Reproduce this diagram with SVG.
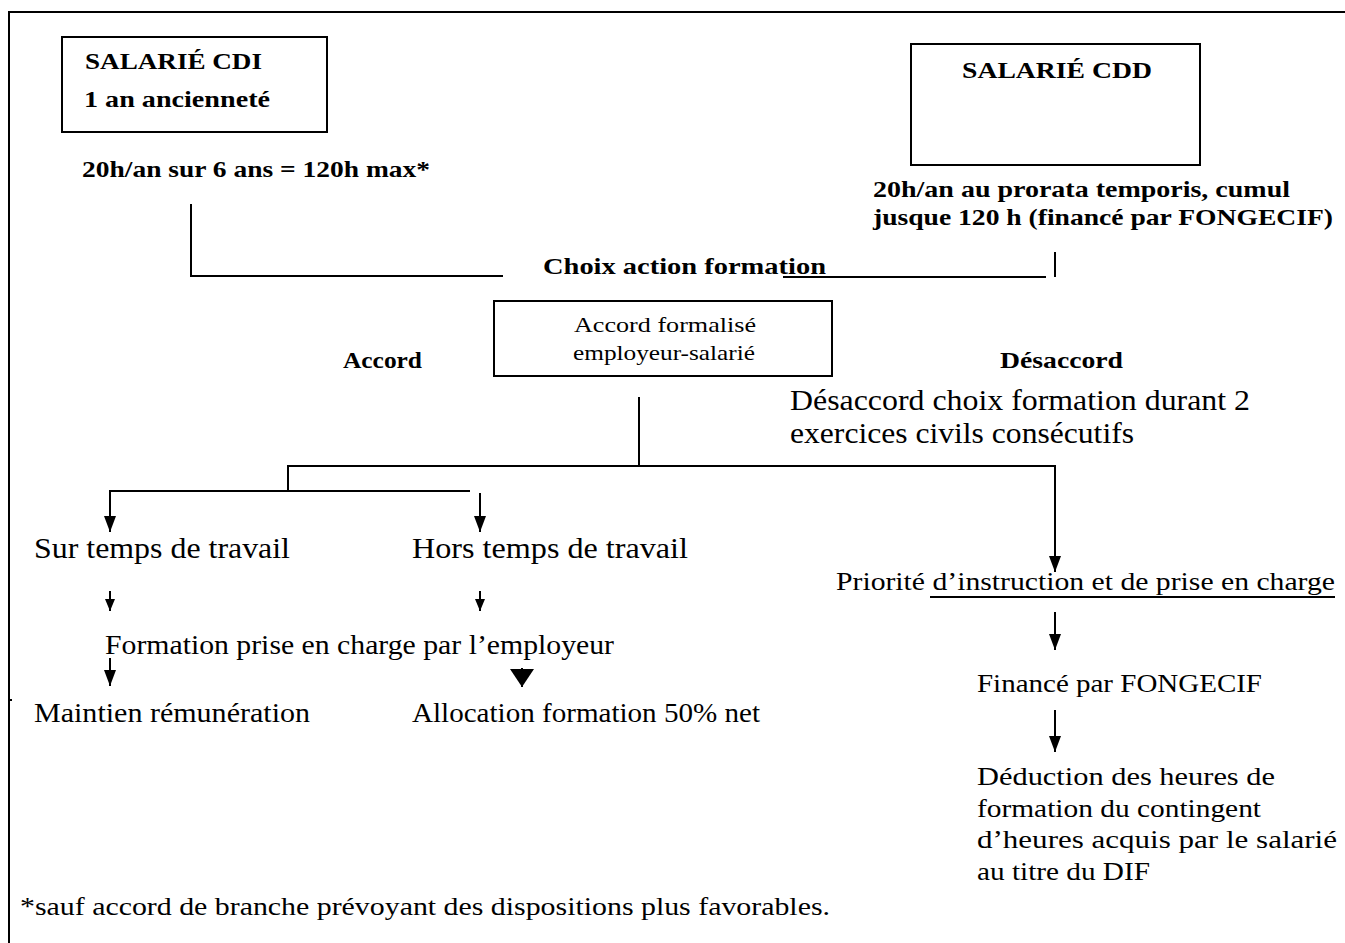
<svg xmlns="http://www.w3.org/2000/svg" width="1345" height="943" viewBox="0 0 1345 943">
<defs>
<style>
text{font-family:"Liberation Serif",serif;fill:#000}
.b{font-weight:bold;font-size:24px}
.s{font-size:21px}
.r{font-size:25px}
.m{font-size:27px}
.L{font-size:29px}
.box{fill:#fff;stroke:#000;stroke-width:2}
.ln{fill:none;stroke:#000;stroke-width:2}
.a{marker-end:url(#ah)}
.as{marker-end:url(#ahs)}
.ab{marker-end:url(#ahb)}
</style>
<marker id="ah" markerUnits="userSpaceOnUse" markerWidth="16" markerHeight="12" refX="16" refY="6" orient="auto"><path d="M0,0 L16,6 L0,12 z" fill="#000"/></marker>
<marker id="ahs" markerUnits="userSpaceOnUse" markerWidth="12" markerHeight="10" refX="12" refY="5" orient="auto"><path d="M0,0 L12,5 L0,10 z" fill="#000"/></marker>
<marker id="ahb" markerUnits="userSpaceOnUse" markerWidth="18" markerHeight="24" refX="18" refY="12" orient="auto"><path d="M0,0 L18,12 L0,24 z" fill="#000"/></marker>
</defs>
<rect width="1345" height="943" fill="#fff"/>
<g id="frame"><path class="ln" d="M9,943 V12 H1345"/><path class="ln" d="M9,700 H12"/></g>
<g id="connectors">
<path class="ln" d="M191,204 V276 H503"/>
<path class="ln" d="M783,277 H1046"/>
<path class="ln" d="M1055,252 V277"/>
<path class="ln" d="M639,397 V466"/>
<path class="ln a" d="M288,491 V466 H1055 V572"/>
<path class="ln a" d="M470,491 H110 V532"/>
<path class="ln a" d="M480,493 V532"/>
<path class="ln as" d="M110,591 V611"/>
<path class="ln as" d="M480,591 V611"/>
<path class="ln a" d="M110,658 V686"/>
<path class="ln ab" d="M522,668 V687"/>
<path class="ln a" d="M1055,612 V650"/>
<path class="ln a" d="M1055,710 V752"/>
</g>
<g id="cdi"><rect class="box" x="62" y="37" width="265" height="95"/>
<text class="b" x="85" y="69" textLength="177" lengthAdjust="spacingAndGlyphs">SALARIÉ CDI</text>
<text class="b" x="84" y="107" textLength="186" lengthAdjust="spacingAndGlyphs">1 an ancienneté</text></g>
<g id="cdi-hours"><text class="b" x="82" y="177" textLength="348" lengthAdjust="spacingAndGlyphs">20h/an sur 6 ans = 120h max*</text></g>
<g id="cdd"><rect class="box" x="911" y="44" width="289" height="121"/>
<text class="b" x="962" y="78" textLength="190" lengthAdjust="spacingAndGlyphs">SALARIÉ CDD</text></g>
<g id="cdd-hours"><text class="b" x="873" y="197" textLength="417" lengthAdjust="spacingAndGlyphs">20h/an au prorata temporis, cumul</text>
<text class="b" x="873" y="225" textLength="460" lengthAdjust="spacingAndGlyphs">jusque 120 h (financé par FONGECIF)</text></g>
<g id="choix"><text class="b" x="543" y="274" textLength="283" lengthAdjust="spacingAndGlyphs">Choix action formation</text></g>
<g id="accord-box"><rect class="box" x="494" y="301" width="338" height="75"/>
<text class="s" x="574" y="332" textLength="182" lengthAdjust="spacingAndGlyphs">Accord formalisé</text>
<text class="s" x="573" y="360" textLength="182" lengthAdjust="spacingAndGlyphs">employeur-salarié</text></g>
<g id="accord"><text class="b" x="343" y="368" textLength="79" lengthAdjust="spacingAndGlyphs">Accord</text></g>
<g id="desaccord"><text class="b" x="1000" y="368" textLength="123" lengthAdjust="spacingAndGlyphs">Désaccord</text></g>
<g id="desaccord-text"><text class="L" x="790" y="410" textLength="460" lengthAdjust="spacingAndGlyphs">Désaccord choix formation durant 2</text>
<text class="L" x="790" y="443" textLength="344" lengthAdjust="spacingAndGlyphs">exercices civils consécutifs</text></g>
<g id="sur-temps"><text class="L" x="34" y="558" textLength="256" lengthAdjust="spacingAndGlyphs">Sur temps de travail</text></g>
<g id="hors-temps"><text class="L" x="412" y="558" textLength="276" lengthAdjust="spacingAndGlyphs">Hors temps de travail</text></g>
<g id="prise-en-charge"><text class="m" x="105" y="654" textLength="509" lengthAdjust="spacingAndGlyphs">Formation prise en charge par l’employeur</text></g>
<g id="maintien"><text class="m" x="34" y="722" textLength="276" lengthAdjust="spacingAndGlyphs">Maintien rémunération</text></g>
<g id="allocation"><text class="m" x="412" y="722" textLength="348" lengthAdjust="spacingAndGlyphs">Allocation formation 50% net</text></g>
<g id="priorite"><text class="r" x="836" y="590" textLength="499" lengthAdjust="spacingAndGlyphs">Priorité d’instruction et de prise en charge</text>
<path class="ln" d="M930,597 H1335"/></g>
<g id="finance"><text class="r" x="977" y="692" textLength="285" lengthAdjust="spacingAndGlyphs">Financé par FONGECIF</text></g>
<g id="deduction"><text class="r" x="977" y="785" textLength="298" lengthAdjust="spacingAndGlyphs">Déduction des heures de</text>
<text class="r" x="977" y="817" textLength="284" lengthAdjust="spacingAndGlyphs">formation du contingent</text>
<text class="r" x="977" y="848" textLength="360" lengthAdjust="spacingAndGlyphs">d’heures acquis par le salarié</text>
<text class="r" x="977" y="880" textLength="173" lengthAdjust="spacingAndGlyphs">au titre du DIF</text></g>
<g id="footnote"><text class="r" x="20" y="915" textLength="810" lengthAdjust="spacingAndGlyphs">*sauf accord de branche prévoyant des dispositions plus favorables.</text></g>
</svg>
